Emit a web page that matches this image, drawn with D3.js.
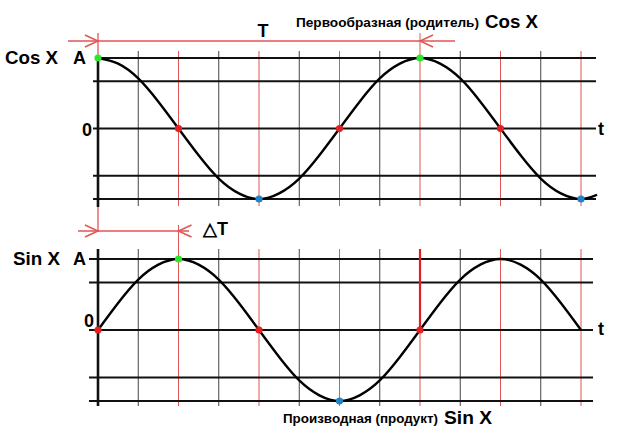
<!DOCTYPE html>
<html><head><meta charset="utf-8">
<script src="https://cdn.jsdelivr.net/npm/d3@7"></script>
<style>html,body{margin:0;padding:0;background:#fff;}svg{display:block;font-family:"Liberation Sans",Arial,sans-serif;font-weight:bold;}</style>
</head><body>
<svg id="c" width="623" height="433"></svg>
<script>
// ---- data ----
const gridCells = [1,2,3,4,5,6,7,8,9,10,11,12];           // vertical grid positions (in 1/8 period)
const redCells  = [2,4,6,8,10,12];                        // red (quarter-period) markers
const gridLevels = [-1,-0.67,0,0.67,1];                   // horizontal grid levels
const cosT = [0,0.5,1,1.5,2,2.5,3,3.5,4,4.5,5,5.5,6,6.5,7,7.5,8,8.5,9,9.5,10,10.5,11,11.5,12,12.4];
const cosV = [1,0.92,0.71,0.38,0,-0.38,-0.71,-0.92,-1,-0.92,-0.71,-0.38,0,0.38,0.71,0.92,1,0.92,0.71,0.38,0,-0.38,-0.71,-0.92,-1,-0.94];
const sinT = [0,0.5,1,1.5,2,2.5,3,3.5,4,4.5,5,5.5,6,6.5,7,7.5,8,8.5,9,9.5,10,10.5,11,11.5,12];
const sinV = [0,0.38,0.71,0.92,1,0.92,0.71,0.38,0,-0.38,-0.71,-0.92,-1,-0.92,-0.71,-0.38,0,0.38,0.71,0.92,1,0.92,0.71,0.38,0];
const cosDotT = [0,2,4,6,8,10,12];
const cosDotV = [1,0,-1,0,1,0,-1];
const cosDotC = ["g","r","b","r","g","r","b"];
const sinDotT = [0,2,4,6,8];
const sinDotV = [0,1,0,-1,0];
const sinDotC = ["r","g","r","b","r"];
const periodT = [0,8];     // T marker
const deltaT  = [0,2];     // ΔT marker
const topTitle = "Первообразная (родитель)";
const topFunc = "Cos X";
const botTitle = "Производная (продукт)";
const botFunc = "Sin X";

// ---- drawing ----
const svg = d3.select("#c");
const col = {g:"#2be62b", r:"#e22222", b:"#2383c4"};
const RED = "#e25555";
const x = d3.scaleLinear().domain([0,12]).range([98,581]);
const yTop = d3.scaleLinear().domain([-1,1]).range([199,58]);
const yBot = d3.scaleLinear().domain([-1,1]).range([401,259]);

function panel(y, gTop, gBot, hx0, hx1, curveT, curveV, dT, dV, dC, redExtra) {
  const g = svg.append("g");
  // vertical grid
  g.selectAll(".vg").data(gridCells.filter(c=>!redCells.includes(c))).enter().append("line")
    .attr("x1",d=>x(d)).attr("x2",d=>x(d)).attr("y1",gTop).attr("y2",gBot)
    .attr("stroke","#444").attr("stroke-width",1);
  g.selectAll(".vr").data(redCells).enter().append("line")
    .attr("x1",d=>x(d)).attr("x2",d=>x(d)).attr("y1",d=>redExtra[d]!==undefined?redExtra[d]:gTop).attr("y2",gBot)
    .attr("stroke",RED).attr("stroke-width",1);
  // horizontal grid
  g.selectAll(".hg").data(gridLevels).enter().append("line")
    .attr("x1",d=>hx0(d)).attr("x2",hx1).attr("y1",d=>y(d)).attr("y2",d=>y(d))
    .attr("stroke","#111").attr("stroke-width",2);
  return g;
}

// red guide at x=0 spanning both markers
svg.append("line").attr("x1",x(0)).attr("x2",x(0)).attr("y1",33).attr("y2",232).attr("stroke",RED).attr("stroke-width",1.3);

const gT = panel(yTop, 51, 206, d=>d===1?x(0):93, 596, cosT, cosV, cosDotT, cosDotV, cosDotC, {8:33});
const gB = panel(yBot, 249, 406, d=>89, 593, sinT, sinV, sinDotT, sinDotV, sinDotC, {2:225});

// thick red marker in bottom panel at t=8
svg.append("line").attr("x1",x(8)).attr("x2",x(8)).attr("y1",249).attr("y2",yBot(0))
  .attr("stroke","#e02020").attr("stroke-width",2.2);

// axes
svg.append("line").attr("x1",x(0)).attr("x2",x(0)).attr("y1",yTop(1)).attr("y2",207).attr("stroke","#111").attr("stroke-width",2.6);
svg.append("line").attr("x1",x(0)).attr("x2",x(0)).attr("y1",249).attr("y2",406).attr("stroke","#111").attr("stroke-width",2.6);

// curves
const lineTop = d3.line().x((d,i)=>x(cosT[i])).y(d=>yTop(d)).curve(d3.curveNatural);
const lineBot = d3.line().x((d,i)=>x(sinT[i])).y(d=>yBot(d)).curve(d3.curveNatural);
svg.append("path").attr("d",lineTop(cosV)).attr("fill","none").attr("stroke","#000").attr("stroke-width",2.4);
svg.append("path").attr("d",lineBot(sinV)).attr("fill","none").attr("stroke","#000").attr("stroke-width",2.4);

// dots
svg.selectAll(".dt").data(cosDotT).enter().append("circle")
  .attr("cx",d=>x(d)).attr("cy",(d,i)=>yTop(cosDotV[i])).attr("r",3.6).attr("fill",(d,i)=>col[cosDotC[i]]);
svg.selectAll(".db").data(sinDotT).enter().append("circle")
  .attr("cx",d=>x(d)).attr("cy",(d,i)=>yBot(sinDotV[i])).attr("r",3.6).attr("fill",(d,i)=>col[sinDotC[i]]);

// dimension arrows
function dim(t0, t1, yy, xl, xr) {
  svg.append("line").attr("x1",xl).attr("x2",xr).attr("y1",yy).attr("y2",yy).attr("stroke",RED).attr("stroke-width",1.5);
  const a = x(t0), b = x(t1);
  svg.append("path").attr("d",`M${a-13},${yy-6}L${a},${yy}L${a-13},${yy+6}`).attr("fill","none").attr("stroke",RED).attr("stroke-width",1.5);
  svg.append("path").attr("d",`M${b+13},${yy-6}L${b},${yy}L${b+13},${yy+6}`).attr("fill","none").attr("stroke",RED).attr("stroke-width",1.5);
}
dim(periodT[0], periodT[1], 41, 68, 455);
dim(deltaT[0], deltaT[1], 231, 78, 189);

// texts
function txt(s, xx, yy, size, anchor, len) {
  const t = svg.append("text").attr("x",xx).attr("y",yy).attr("font-size",size).attr("fill","#000")
    .attr("text-anchor",anchor||"start").text(s);
  if (len) t.attr("textLength",len).attr("lengthAdjust","spacingAndGlyphs");
  return t;
}
txt("T", 263, 37, 18, "middle");
txt(topTitle, 296, 27, 13, "start", 183);
txt(topFunc, 485, 28, 18, "start", 53);
txt("Cos X", 5, 64, 18, "start", 53);
txt("A", 73, 64, 18);
txt("0", 82, 136, 18);
txt("t", 598, 135, 18);
txt("\u25B3T", 203, 235, 18);
txt("Sin X", 13, 265, 18, "start", 47);
txt("A", 73, 265, 18);
txt("0", 84, 327, 18);
txt("t", 598, 335, 18);
txt(botTitle, 283, 423, 13, "start", 155);
txt(botFunc, 444, 424, 18, "start", 48);
</script>
</body></html>
